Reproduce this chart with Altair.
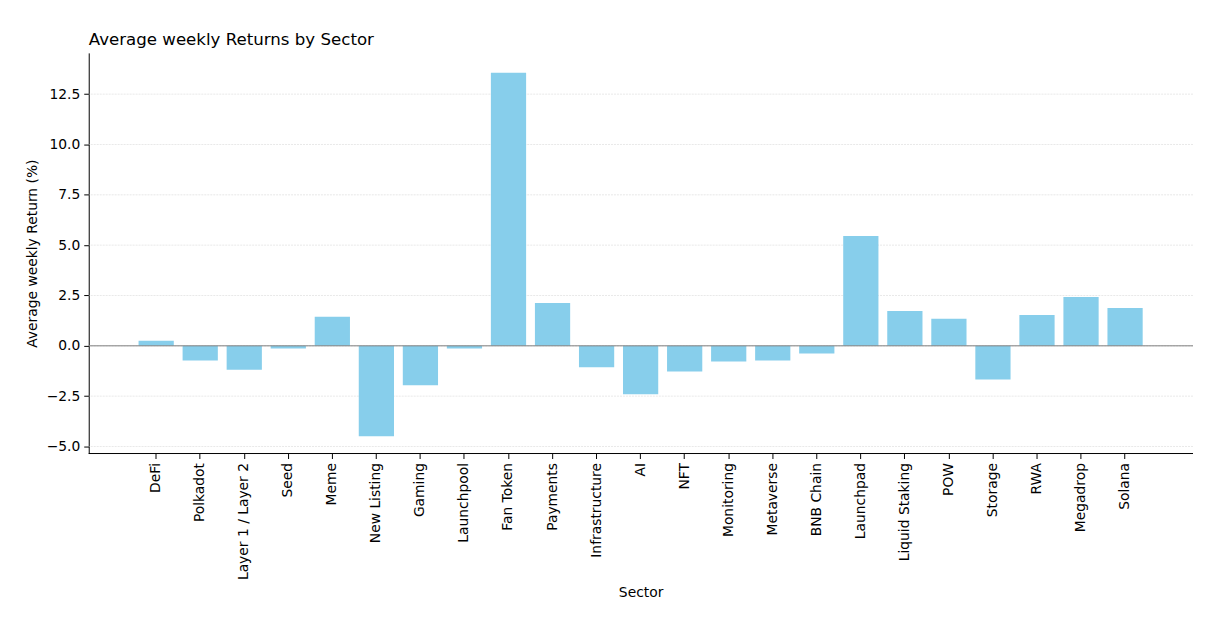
import altair as alt
import pandas as pd

sectors = ["DeFi", "Polkadot", "Layer 1 / Layer 2", "Seed", "Meme", "New Listing",
           "Gaming", "Launchpool", "Fan Token", "Payments", "Infrastructure", "AI",
           "NFT", "Monitoring", "Metaverse", "BNB Chain", "Launchpad", "Liquid Staking",
           "POW", "Storage", "RWA", "Megadrop", "Solana"]
returns = [0.25, -0.73, -1.19, -0.13, 1.44, -4.49,
           -1.96, -0.13, 13.56, 2.13, -1.07, -2.41,
           -1.27, -0.78, -0.73, -0.38, 5.45, 1.73,
           1.34, -1.67, 1.53, 2.43, 1.88]
y_ticks = [-5.0, -2.5, 0.0, 2.5, 5.0, 7.5, 10.0, 12.5]
y_min, y_max = -5.35, 14.55

df = pd.DataFrame({"Sector": sectors, "Return": returns})
zero_df = pd.DataFrame({"y": [0.0]})
grid_df = pd.DataFrame({"y": y_ticks})
base_df = pd.DataFrame({"y": [y_min]})

font = "DejaVu Sans"
fs = 13.9

y_scale = alt.Scale(domain=[y_min, y_max], nice=False, zero=False)
y_axis = alt.Axis(title="Average weekly Return (%)", values=y_ticks, format=".1f",
                  labelFont=font, labelFontSize=fs, labelColor="black",
                  titleFont=font, titleFontSize=fs, titleFontWeight="normal",
                  titleColor="black", titlePadding=7, tickSize=5,
                  tickColor="black", labelPadding=4, domainColor="black",
                  grid=False)

grid = alt.Chart(grid_df).mark_rule(color="#d9d9d9", strokeWidth=0.6, strokeDash=[2, 1]).encode(
    y=alt.Y("y:Q", scale=y_scale, axis=y_axis)
)

bars = alt.Chart(df).mark_bar(color="#87CEEB").encode(
    x=alt.X("Sector:N", sort=None,
            scale=alt.Scale(paddingInner=0.2, paddingOuter=0, round=False,
                            range=[50.0, 1057.5]),
            axis=alt.Axis(title="Sector", labelAngle=-90, labelAlign="right",
                          labelBaseline="middle", labelFont=font, labelFontSize=fs,
                          labelColor="black", titleFont=font, titleFontSize=fs,
                          titleFontWeight="normal", titleColor="black", titlePadding=6,
                          tickSize=5, tickColor="black", labelPadding=4,
                          domain=False, grid=False)),
    y=alt.Y("Return:Q", scale=y_scale, axis=y_axis),
)

zero = alt.Chart(zero_df).mark_rule(color="#808080", strokeWidth=1).encode(
    y=alt.Y("y:Q", scale=y_scale)
)

baseline = alt.Chart(base_df).mark_rule(color="black", strokeWidth=1).encode(
    y=alt.Y("y:Q", scale=y_scale)
)

chart = alt.layer(grid, bars, zero, baseline).properties(
    width=1108,
    height=402,
    title=alt.TitleParams("Average weekly Returns by Sector", anchor="start", frame="group",
                          font=font, fontSize=16.7, fontWeight="normal", color="black",
                          offset=4),
    autosize=alt.AutoSizeParams(type="none"),
    padding={"left": 81, "top": 44, "right": 4, "bottom": 165},
).configure(background="white").configure_view(strokeWidth=0)

chart.save("out.html", embed_options={"renderer": "svg", "actions": False})
